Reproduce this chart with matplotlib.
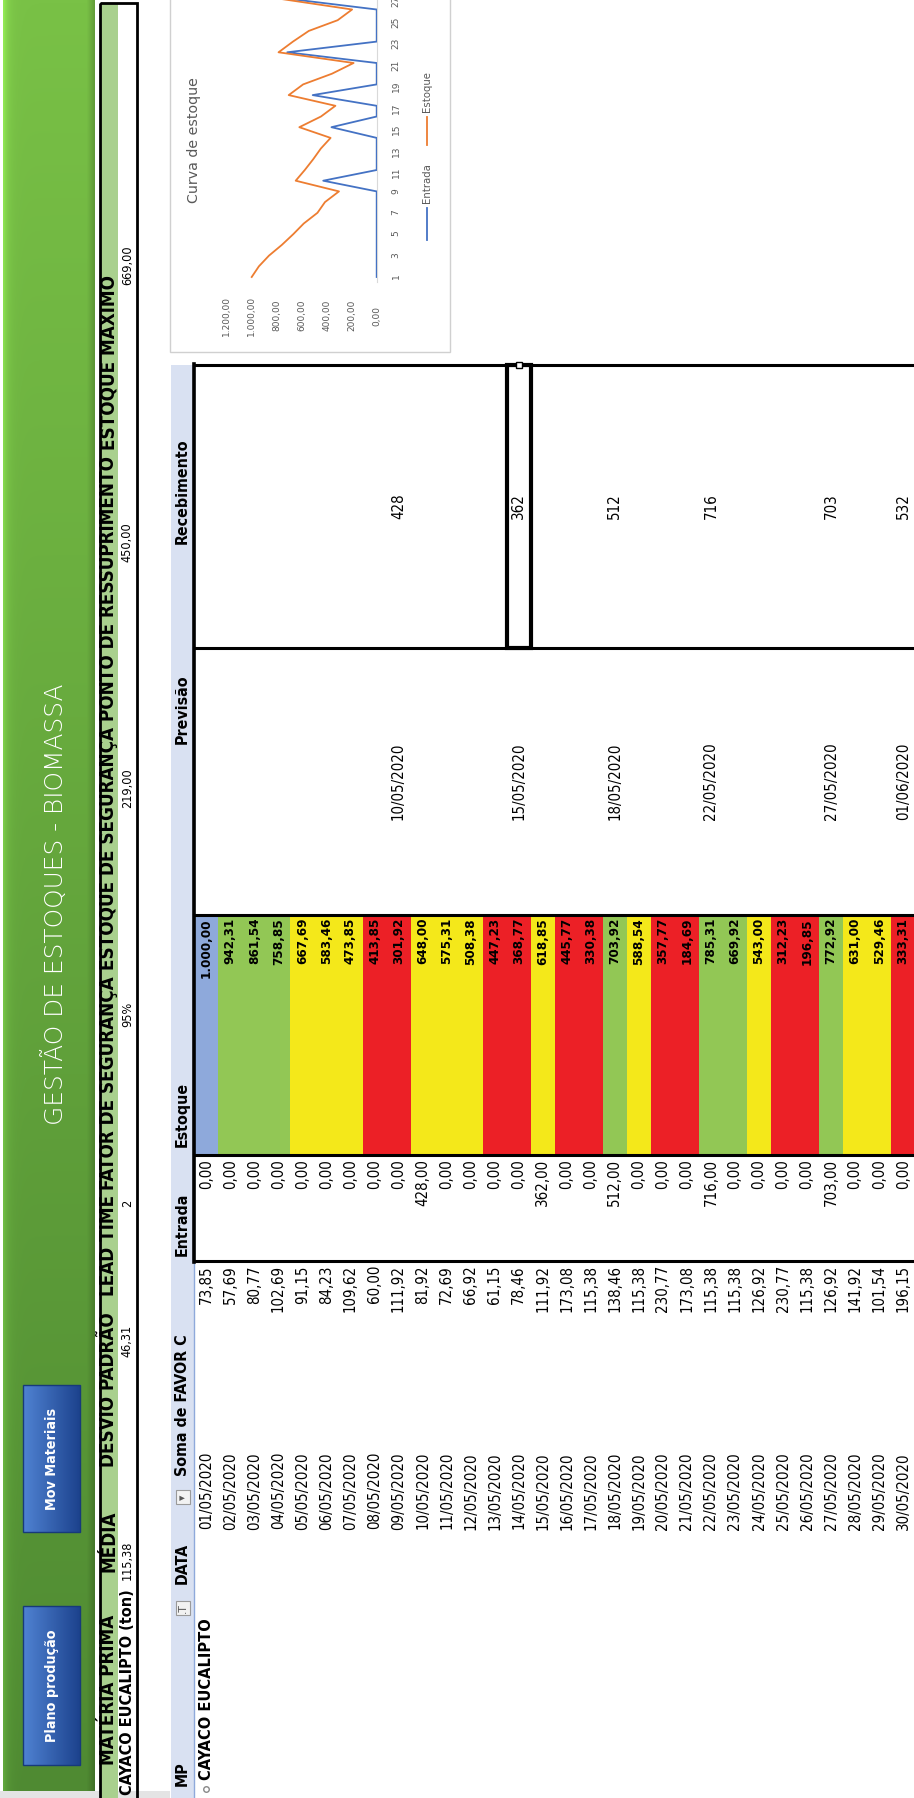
import numpy as np
import matplotlib
matplotlib.use('Agg')
import matplotlib.pyplot as plt
from matplotlib.patches import Rectangle
from matplotlib.colors import to_rgb
import matplotlib.ticker as mticker

# ---------------- data ----------------
datas = ['01/05/2020', '02/05/2020', '03/05/2020', '04/05/2020', '05/05/2020',
         '06/05/2020', '07/05/2020', '08/05/2020', '09/05/2020', '10/05/2020',
         '11/05/2020', '12/05/2020', '13/05/2020', '14/05/2020', '15/05/2020',
         '16/05/2020', '17/05/2020', '18/05/2020', '19/05/2020', '20/05/2020',
         '21/05/2020', '22/05/2020', '23/05/2020', '24/05/2020', '25/05/2020',
         '26/05/2020', '27/05/2020', '28/05/2020', '29/05/2020', '30/05/2020']
consumo = [73.85, 57.69, 80.77, 102.69, 91.15, 84.23, 109.62, 60.00, 111.92, 81.92,
           72.69, 66.92, 61.15, 78.46, 111.92, 173.08, 115.38, 138.46, 115.38, 230.77,
           173.08, 115.38, 115.38, 126.92, 230.77, 115.38, 126.92, 141.92, 101.54, 196.15]
entrada = [0, 0, 0, 0, 0, 0, 0, 0, 0, 428, 0, 0, 0, 0, 362, 0, 0, 512, 0, 0,
           0, 716, 0, 0, 0, 0, 703, 0, 0, 0]
estoque = [1000.00, 942.31, 861.54, 758.85, 667.69, 583.46, 473.85, 413.85, 301.92, 648.00,
           575.31, 508.38, 447.23, 368.77, 618.85, 445.77, 330.38, 703.92, 588.54, 357.77,
           184.69, 785.31, 669.92, 543.00, 312.23, 196.85, 772.92, 631.00, 529.46, 333.31]
dia_num = list(range(1, 31))
prev_linhas = [9, 14, 18, 22, 27, 30]
prev_datas = ['10/05/2020', '15/05/2020', '18/05/2020', '22/05/2020', '27/05/2020', '01/06/2020']
recebimento = [428, 362, 512, 716, 703, 532]
param_nomes = ['MATÉRIA PRIMA', 'MÉDIA', 'DESVIO PADRÃO', 'LEAD TIME', 'FATOR DE SEGURANÇA',
               'ESTOQUE DE SEGURANÇA', 'PONTO DE RESSUPRIMENTO', 'ESTOQUE MAXIMO']
param_valores = ['CAYACO EUCALIPTO (ton)', '115,38', '46,31', '2', '95%', '219,00', '450,00', '669,00']
ponto_ressup = 450.0
estoque_max = 669.0
cab_tabela = ['MP', 'DATA', 'Soma de FAVOR C', 'Entrada', 'Estoque', 'Previsão', 'Recebimento']
eixo_valores = [0, 200, 400, 600, 800, 1000, 1200]

# ---------------- layout (pixels) ----------------
W, H = 914, 1798
NARROW = ['DejaVu Sans']


def br(v):
    s = f"{v:,.2f}"
    return s.replace(',', 'X').replace('.', ',').replace('X', '.')


fig = plt.figure(figsize=(W / 100, H / 100), dpi=100)
fig.patch.set_facecolor('white')
ax = fig.add_axes([0, 0, 1, 1])
ax.axis('off')

texts_groups = {}


def T(x, y, s, group, ha='center', color='black', weight='normal', z=6, stretch='condensed'):
    t = ax.text(x, y, s, rotation=90, rotation_mode='anchor', ha=ha, va='center',
                fontsize=10, color=color, fontweight=weight, family=NARROW,
                fontstretch=stretch, zorder=z)
    texts_groups.setdefault(group, []).append(t)
    return t


# ---- banner ----
n = 300
tt = np.linspace(0, 1, n)[:, None]
top = np.array(to_rgb('#79c146'))
bot = np.array(to_rgb('#4f8a32'))
base = top * (1 - tt) + bot * tt
xs = np.linspace(0, 1, 60)
shade = 1 + 0.22 * np.exp(-xs / 0.05) - 0.18 * np.clip((xs - 0.92) / 0.08, 0, 1)
img = np.clip(base[:, None, :] * shade[None, :, None], 0, 1)
ax.imshow(img, extent=(3, 95, 1791, 0), aspect='auto', zorder=1, interpolation='bilinear')
ax.add_patch(Rectangle((0, 1791), 170, 7, facecolor='#e4e4e4', edgecolor='none', zorder=1))

# buttons
for (y0, y1, lab) in [(1606, 1765, 'Plano produção'), (1385, 1532, 'Mov Materiais')]:
    g = np.linspace(0, 1, 40)
    c0 = np.array(to_rgb('#4f82d2'))
    c1 = np.array(to_rgb('#1d438e'))
    bimg = (c0[None, :] * (1 - g[:, None]) + c1[None, :] * g[:, None])[None, :, :]
    bimg = np.repeat(bimg, 10, axis=0)
    ax.imshow(bimg, extent=(23, 80, y1, y0), aspect='auto', zorder=2)
    ax.add_patch(Rectangle((23, y0), 57, y1 - y0, fill=False, edgecolor='#173a7a', lw=1, zorder=3))
    T(52, (y0 + y1) / 2, lab, 'btn', color='white', weight='bold')

T(55, 904, 'GESTÃO DE ESTOQUES - BIOMASSA', 'title', color='white', weight=200,
  stretch='normal')

# ---- parameter table ----
PX0, PX1, PX2 = 100, 118, 137
ax.add_patch(Rectangle((PX0, 3), PX1 - PX0, H, facecolor='#a9d08e', edgecolor='none', zorder=2))
ax.add_patch(Rectangle((PX0 - 0.5, 3), PX2 - PX0 + 0.5, H, facecolor='none', edgecolor='black',
                       lw=2, zorder=4))
hdr_start = [1765, 1572, 1467, 1296, 1190, None, None, None]
val_end = [None, 1541, 1325, 1200, 1002, 768, 522, 245]
phdr = []
for i, (nm, vl) in enumerate(zip(param_nomes, param_valores)):
    phdr.append(T((PX0 + PX1) / 2, hdr_start[i] if hdr_start[i] else 0, nm, 'phdr',
                  ha='left', weight='bold'))
    if i == 0:
        T((PX1 + PX2) / 2, 1795, vl, 'pval0', ha='left', weight='bold')
    else:
        T((PX1 + PX2) / 2, val_end[i], vl, 'pval', ha='right')

# ---- chart box ----
ax.add_patch(Rectangle((170, -5), 280, 357, facecolor='white', edgecolor='#d0d0d0', lw=1, zorder=2))
T(194, 140, 'Curva de estoque', 'ctitle', color='#595959', stretch='normal')
# legend
ax.plot([427, 427], [208, 240], color='#4472C4', lw=1.3, zorder=5)
T(427, 203, 'Entrada', 'leg', ha='left', color='#595959')
ax.plot([427, 427], [117, 145], color='#ED7D31', lw=1.3, zorder=5)
T(427, 112, 'Estoque', 'leg', ha='left', color='#595959')

# ---- main table ----
R0, RH = 194.3, 24.03
HB0 = 171
REC_T, REC_B, PREV_B, EST_B, ENT_B = 365, 648, 915, 1155, 1261
HX = (HB0 + R0) / 2
ax.add_patch(Rectangle((HB0, REC_T), R0 - HB0, H - REC_T, facecolor='#d9e1f2',
                       edgecolor='none', zorder=2))
ax.plot([R0, R0], [REC_T, H], color='#8ea9db', lw=1, zorder=3)

# estoque cells
for i, v in enumerate(estoque):
    if i == 0:
        c = '#8ea9db'
    elif v > estoque_max:
        c = '#92c755'
    elif v >= ponto_ressup:
        c = '#f4e81a'
    else:
        c = '#ec2026'
    ax.add_patch(Rectangle((R0 + i * RH, PREV_B), RH, EST_B - PREV_B, facecolor=c,
                           edgecolor='none', zorder=2))

for i in range(30):
    xc = R0 + (i + 0.5) * RH
    T(xc, 1452, datas[i], 'data', ha='right')
    T(xc, ENT_B + 4, br(consumo[i]), 'data', ha='right')
    T(xc, EST_B + 4, br(entrada[i]), 'data', ha='right')
    T(xc, PREV_B + 3, br(estoque[i]), 'est', ha='right', weight='bold')

for r, d, v in zip(prev_linhas, prev_datas, recebimento):
    xc = R0 + (r - 0.5) * RH
    T(xc, (REC_B + PREV_B) / 2, d, 'data')
    T(xc, (REC_T + REC_B) / 2, str(v), 'data')

# headers
T(HX, 1786, cab_tabela[0], 'hdr', ha='left', weight='bold')
T(HX, 1584, cab_tabela[1], 'hdr', ha='left', weight='bold')
T(HX, 1476, cab_tabela[2], 'hdr', ha='left', weight='bold')
T(HX, ENT_B - 5, cab_tabela[3], 'hdr', ha='left', weight='bold')
T(HX, EST_B - 8, cab_tabela[4], 'hdr', ha='left', weight='bold')
T(HX, 709, cab_tabela[5], 'hdr', weight='bold')
T(HX, 491, cab_tabela[6], 'hdr', weight='bold')
# filter icons
for yc, sym in [(1608, '.T'), (1497, '▾')]:
    ax.add_patch(Rectangle((HX - 7, yc - 7), 14, 14, facecolor='#f2f2f2', edgecolor='#9a9a9a',
                           lw=0.8, zorder=5))
    T(HX, yc, sym, 'icon', color='#555555', stretch='normal')
T(R0 + 0.5 * RH, 1780, 'CAYACO EUCALIPTO', 'mp', ha='left', weight='bold')
ax.plot([R0 + 0.5 * RH], [1789], marker='o', ms=4, mfc='white', mec='#888888', zorder=6)

# borders
for yb in (REC_T, REC_B, PREV_B, EST_B, ENT_B):
    ax.plot([R0, W], [yb, yb], color='black', lw=2.2, zorder=4, solid_capstyle='butt')
ax.plot([R0, R0], [REC_T - 1, ENT_B + 1], color='black', lw=2.6, zorder=4)
# selected cell
ax.add_patch(Rectangle((R0 + 13 * RH, REC_T), RH, REC_B - REC_T, facecolor='none',
                       edgecolor='black', lw=3, zorder=5))
ax.add_patch(Rectangle((R0 + 13.5 * RH - 3, REC_T - 3), 6, 6, facecolor='white',
                       edgecolor='black', lw=1, zorder=6))

ax.set_xlim(0, W)
ax.set_ylim(H, 0)

# ---- chart axes ----
VAL0_X, PXV = 376.7, 0.125
CAT1_Y, PXC = 277.0, 10.7
left = VAL0_X - 1200 * PXV
bottom_px = CAT1_Y + 0.5 * PXC
top_px = CAT1_Y - 29.5 * PXC
axc = fig.add_axes([left / W, 1 - bottom_px / H, (VAL0_X - left) / W, (bottom_px - top_px) / H])
axc.patch.set_alpha(0)
axc.plot(entrada, dia_num, color='#4472C4', lw=1.3, zorder=3)
axc.plot(estoque, dia_num, color='#ED7D31', lw=1.3, zorder=3)
axc.set_xlim(1200, 0)
axc.set_ylim(0.5, 30.5)
axc.set_xticks(eixo_valores)
axc.xaxis.set_major_formatter(mticker.FuncFormatter(lambda v, p: br(v)))
axc.set_yticks(dia_num[::2])
axc.yaxis.tick_right()
for s in ('left', 'top', 'bottom'):
    axc.spines[s].set_visible(False)
axc.spines['right'].set_color('#d9d9d9')
axc.tick_params(axis='x', length=0, pad=24, labelsize=6.5, labelcolor='#595959', labelrotation=90)
axc.tick_params(axis='y', length=0, pad=14, labelsize=6.5, labelcolor='#595959', labelrotation=90)
for lab in axc.get_xticklabels():
    lab.set_va('center')
for lab in axc.get_yticklabels():
    lab.set_ha('center')

# ---- fit font sizes ----
fig.canvas.draw()
Rr = fig.canvas.get_renderer()


def scale_group(group, ref_text, target):
    ts = texts_groups[group]
    ref = [t for t in ts if t.get_text() == ref_text][0]
    L = ref.get_window_extent(Rr).height
    size = ref.get_fontsize() * target / L
    for t in ts:
        t.set_fontsize(size)


scale_group('title', 'GESTÃO DE ESTOQUES - BIOMASSA', 440)
scale_group('btn', 'Plano produção', 112)
scale_group('phdr', 'MATÉRIA PRIMA', 150)
scale_group('pval0', 'CAYACO EUCALIPTO (ton)', 205)
scale_group('pval', '450,00', 40)
scale_group('ctitle', 'Curva de estoque', 125)
scale_group('leg', 'Entrada', 40)
scale_group('data', '01/05/2020', 78)
scale_group('est', '1.000,00', 60)
scale_group('hdr', 'Recebimento', 105)
scale_group('mp', 'CAYACO EUCALIPTO', 160)
scale_group('icon', '.T', 10)

# chain the last headers (text flows continuously after FATOR DE SEGURANÇA)
fig.canvas.draw()
gap = 6
for i in range(5, 8):
    prev = phdr[i - 1]
    L = prev.get_window_extent(Rr).height
    end_prev = prev.get_position()[1] - L
    phdr[i].set_y(end_prev - gap)

fig.savefig('out.png', dpi=100, facecolor='white')
